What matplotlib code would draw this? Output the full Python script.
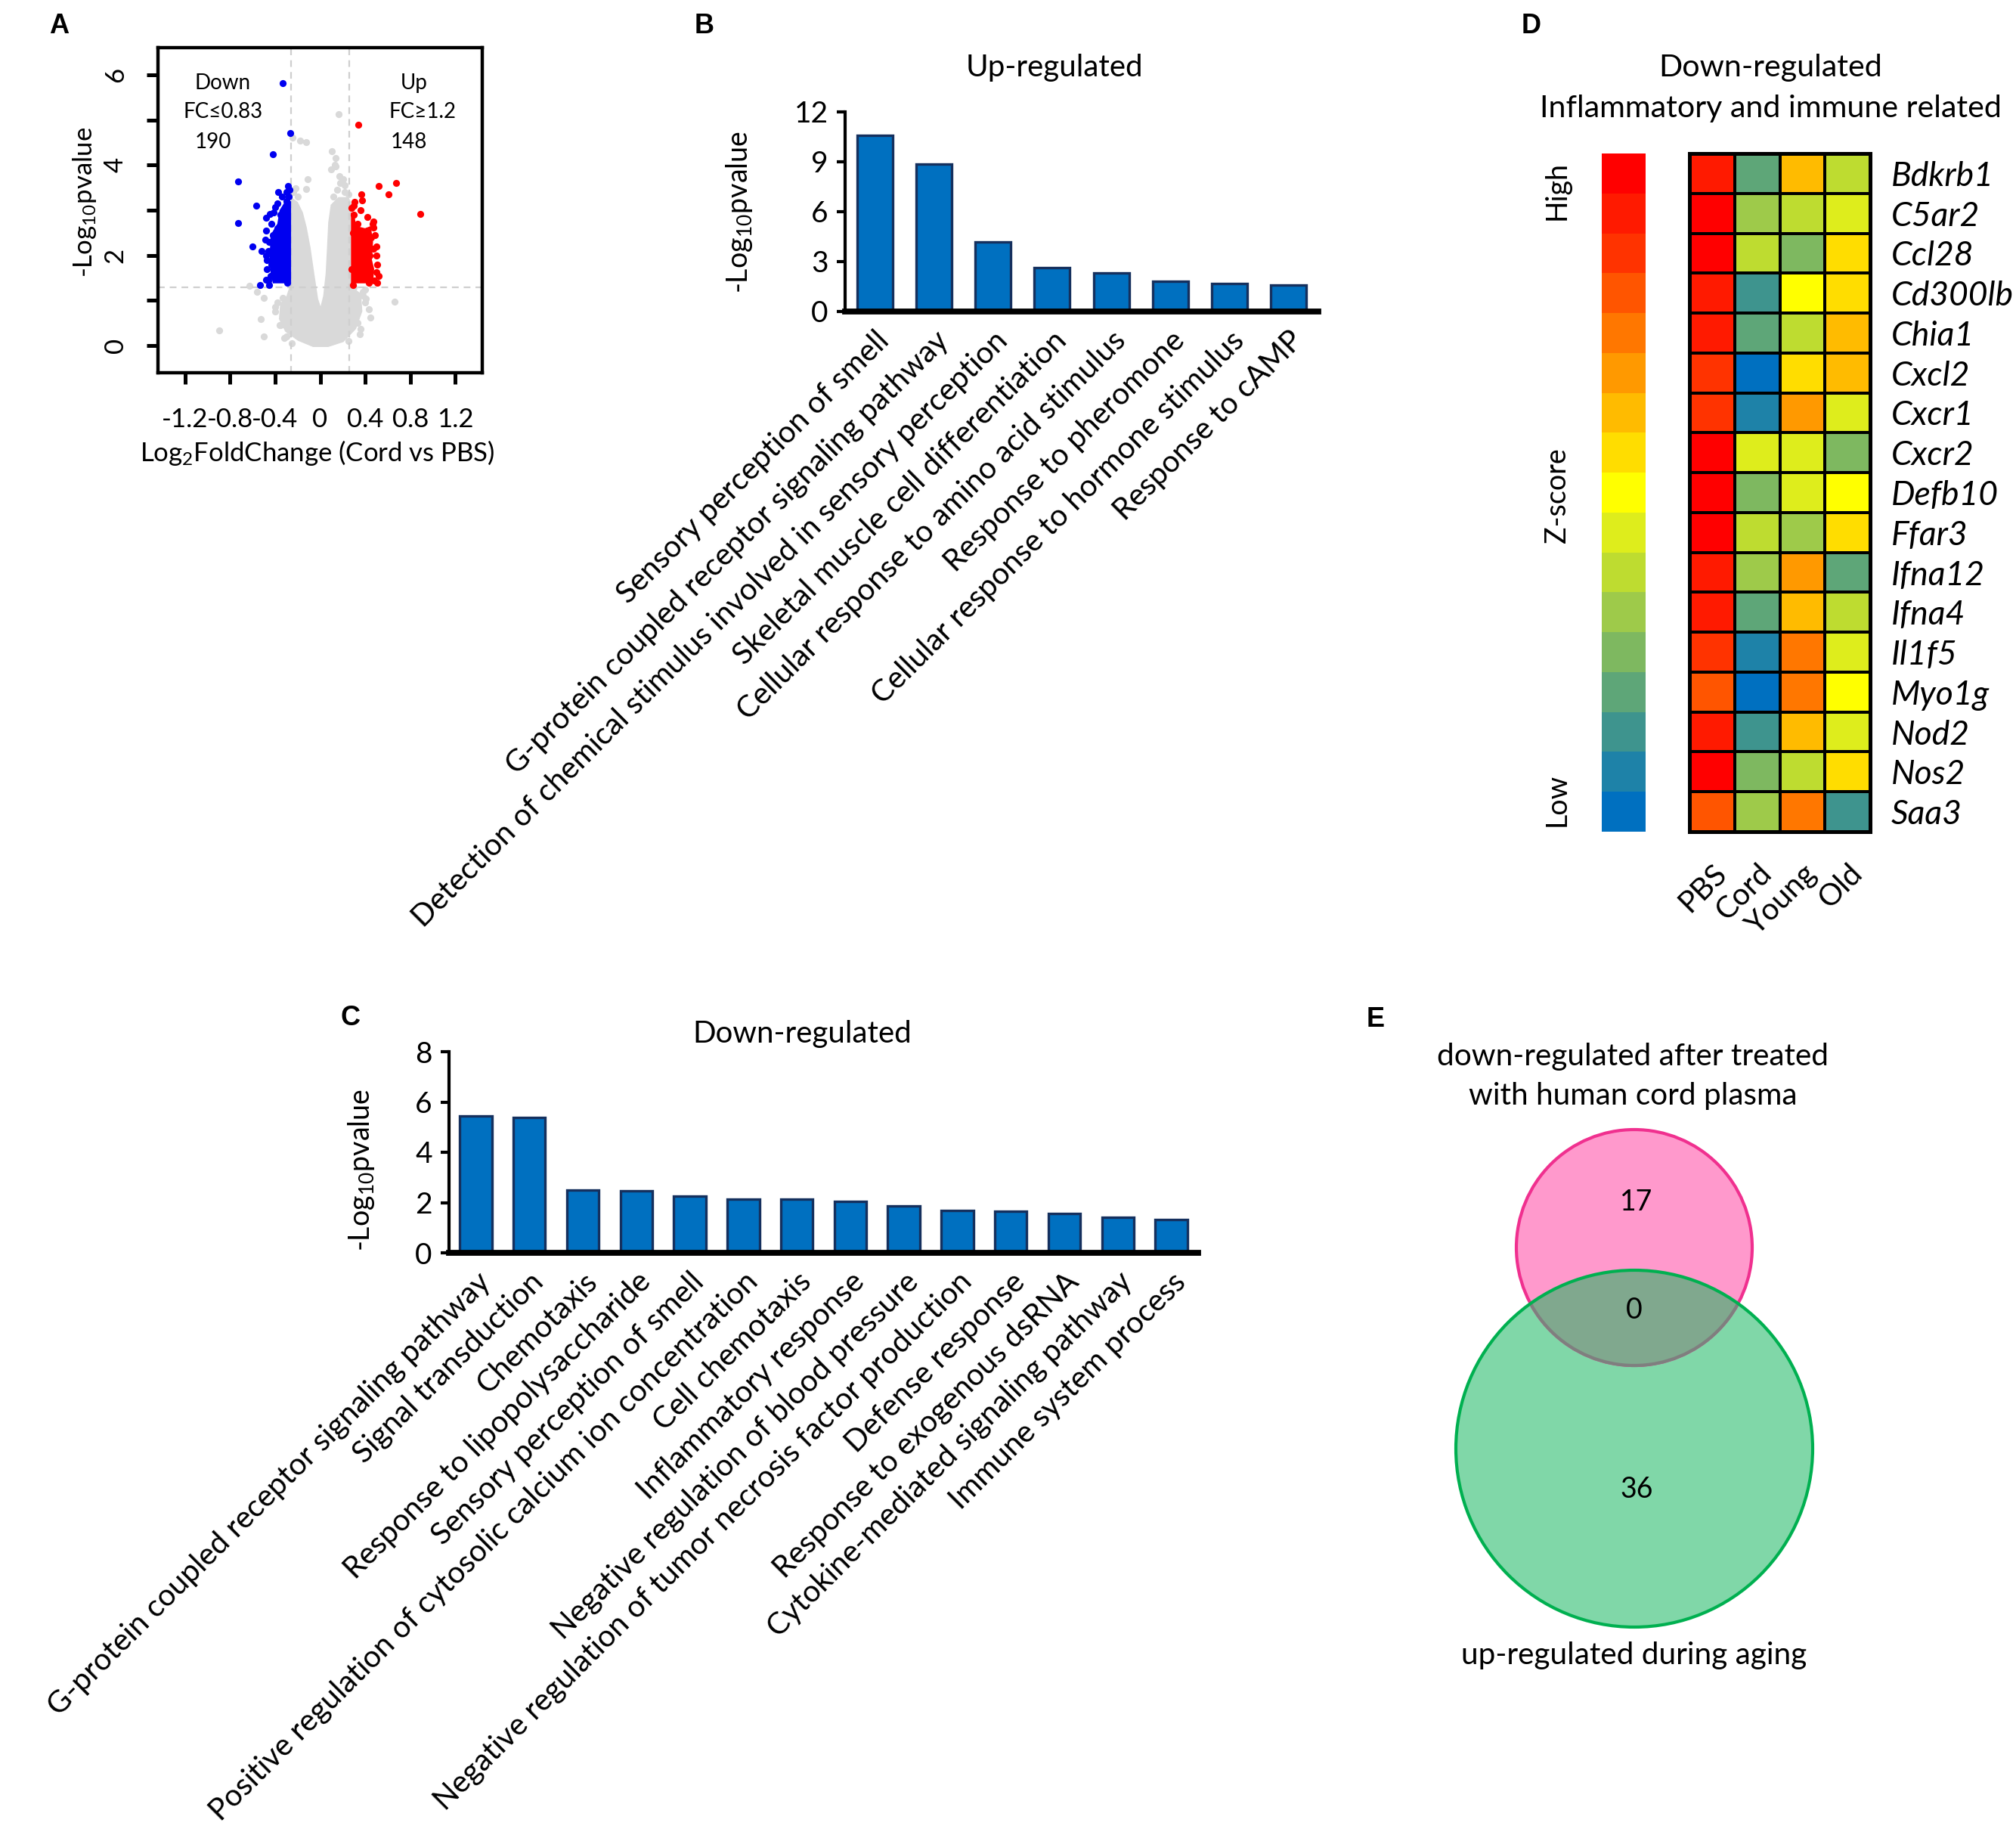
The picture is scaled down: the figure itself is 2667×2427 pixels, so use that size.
import numpy as np
import matplotlib
matplotlib.use('Agg')
import matplotlib.pyplot as plt
from matplotlib.colors import ListedColormap, BoundaryNorm
from matplotlib.patches import Circle

plt.rcParams['font.family'] = ['Lato', 'DejaVu Sans']
plt.rcParams['mathtext.default'] = 'regular'

# ---------------- data ----------------
# A: volcano plot (log2 fold change, -log10 p)
gray_core_x = [-0.258, -0.198, -0.153, -0.119, -0.085, -0.052, -0.018, 0.004, 0.027, 0.049, 0.061,
               0.072, 0.094, 0.162, 0.252, 0.274, 0.274, 0.364, 0.375, 0.319, 0.207, 0.072, -0.063,
               -0.198, -0.31, -0.366, -0.355, -0.299, -0.27, -0.258]
gray_core_y = [3.29, 3.18, 2.95, 2.62, 2.17, 1.60, 1.04, 0.87, 1.10, 1.60, 2.17,
               2.73, 3.12, 3.29, 3.29, 3.18, 1.32, 1.15, 0.76, 0.37, 0.08, -0.03, -0.03,
               0.11, 0.31, 0.59, 0.93, 1.10, 1.32, 1.60]
gray_x = [0.162, -0.175, -0.126, -0.243, 0.106, 0.139, 0.139, -0.112, -0.22, -0.126, 0.207, 0.22,
          0.17, -0.899, -0.629, -0.528, -0.501, -0.501, 0.661, 0.449, 0.409, 0.36, -0.321, -0.56,
          0.43, 0.40, -0.40, -0.35, 0.35, 0.38, -0.40, -0.36, -0.30, -0.25, 0.25, 0.33, 0.40,
          0.38, -0.33, -0.38, 0.30, -0.24, -0.20, 0.12, 0.15, 0.18, 0.22, 0.25, 0.10, 0.13]
gray_y = [5.13, 4.54, 4.51, 4.61, 4.30, 4.16, 3.97, 3.68, 3.49, 3.47, 3.68, 3.55,
          3.75, 0.34, 1.32, 0.59, 0.20, 1.05, 0.97, 0.62, 1.04, 0.37, 0.17, 1.20,
          0.80, 1.25, 0.85, 0.45, 0.25, 1.10, 0.75, 0.45, 0.20, 0.05, 0.10, 0.50, 0.95,
          1.20, 1.05, 0.95, 1.30, 3.40, 3.30, 3.30, 3.45, 3.60, 3.40, 3.35, 3.90, 4.00]
blue_core_x = [-0.258, -0.31, -0.36, -0.38, -0.44, -0.45, -0.44, -0.42, -0.258]
blue_core_y = [3.20, 3.20, 3.00, 2.70, 2.45, 1.90, 1.60, 1.38, 1.38]
blue_x = [-0.333, -0.265, -0.42, -0.726, -0.288, -0.371, -0.569, -0.726, -0.479, -0.445, -0.40,
          -0.602, -0.521, -0.535, -0.479, -0.42, -0.45, -0.46, -0.43, -0.38, -0.35, -0.30, -0.28,
          -0.31, -0.39, -0.44, -0.47, -0.41, -0.36, -0.33, -0.29,
          -0.49, -0.48, -0.47, -0.46, -0.43, -0.41, -0.38, -0.34, -0.30, -0.27, -0.48, -0.45]
blue_y = [5.82, 4.70, 4.24, 3.64, 3.54, 3.40, 3.10, 2.71, 2.84, 2.92, 3.07,
          2.20, 2.10, 1.35, 1.46, 2.45, 2.30, 2.10, 1.80, 2.60, 2.90, 3.20, 3.30,
          3.00, 1.60, 1.55, 1.90, 2.00, 1.50, 2.75, 1.40,
          2.35, 2.00, 1.70, 1.45, 2.70, 2.95, 3.15, 3.30, 3.40, 3.45, 2.55, 1.35]
red_core_x = [0.274, 0.30, 0.32, 0.40, 0.45, 0.47, 0.46, 0.48, 0.47, 0.274]
red_core_y = [2.95, 2.95, 2.65, 2.60, 2.65, 2.30, 1.90, 1.70, 1.38, 1.38]
red_x = [0.342, 0.517, 0.674, 0.607, 0.892, 0.364, 0.375, 0.308, 0.465, 0.476, 0.51, 0.499, 0.48,
         0.45, 0.42, 0.30, 0.29, 0.33, 0.40, 0.44, 0.47, 0.36, 0.31, 0.28, 0.39, 0.43,
         0.50, 0.49, 0.47, 0.42, 0.36, 0.30, 0.52, 0.51, 0.50, 0.28, 0.29]
red_y = [4.89, 3.54, 3.60, 3.36, 2.92, 3.35, 3.21, 3.18, 2.70, 2.62, 1.80, 1.63, 1.45,
         2.40, 2.55, 2.90, 2.50, 2.70, 2.20, 2.00, 2.15, 1.95, 1.50, 1.70, 1.75, 1.40,
         2.00, 2.45, 2.75, 2.85, 3.00, 3.10, 1.55, 1.40, 2.20, 3.05, 1.35]
fc_cut = [-0.26, 0.26]
p_cut = 1.3
volcano_xticks = [-1.2, -0.8, -0.4, 0, 0.4, 0.8, 1.2]
volcano_xticklabels = ['-1.2', '-0.8', '-0.4', '0', '0.4', '0.8', '1.2']
volcano_yticks = [0, 1, 2, 3, 4, 5, 6]
volcano_yticklabels = ['0', '', '2', '', '4', '', '6']

# B: GO terms up-regulated
up_terms = ['Sensory perception of smell',
            'G-protein coupled receptor signaling pathway',
            'Detection of chemical stimulus involved in sensory perception',
            'Skeletal muscle cell differentiation',
            'Cellular response to amino acid stimulus',
            'Response to pheromone',
            'Cellular response to hormone stimulus',
            'Response to cAMP']
up_vals = [10.6, 8.85, 4.2, 2.63, 2.31, 1.84, 1.68, 1.58]

# C: GO terms down-regulated
down_terms = ['G-protein coupled receptor signaling pathway',
              'Signal transduction',
              'Chemotaxis',
              'Response to lipopolysaccharide',
              'Sensory perception of smell',
              'Positive regulation of cytosolic calcium ion concentration',
              'Cell chemotaxis',
              'Inflammatory response',
              'Negative regulation of blood pressure',
              'Negative regulation of tumor necrosis factor production',
              'Defense response',
              'Response to exogenous dsRNA',
              'Cytokine-mediated signaling pathway',
              'Immune system process']
down_vals = [5.45, 5.37, 2.50, 2.46, 2.26, 2.15, 2.13, 2.06, 1.87, 1.68, 1.66, 1.57, 1.41, 1.33]

# D: heatmap (z-score levels, 8 = high, -8 = low)
genes = ['Bdkrb1', 'C5ar2', 'Ccl28', 'Cd300lb', 'Chia1', 'Cxcl2', 'Cxcr1', 'Cxcr2', 'Defb10',
         'Ffar3', 'Ifna12', 'Ifna4', 'Il1f5', 'Myo1g', 'Nod2', 'Nos2', 'Saa3']
groups = ['PBS', 'Cord', 'Young', 'Old']
heat_vals = [[7, -5, 2, -2],
             [8, -3, -2, -1],
             [8, -2, -4, 1],
             [7, -6, 0, 1],
             [7, -5, -2, 2],
             [6, -8, 1, 2],
             [6, -7, 3, -1],
             [8, -1, -1, -4],
             [8, -4, -1, 0],
             [8, -2, -3, 1],
             [7, -3, 3, -5],
             [7, -5, 2, -2],
             [6, -7, 4, -1],
             [5, -8, 4, 0],
             [7, -6, 2, -1],
             [8, -4, -2, 1],
             [5, -3, 4, -6]]
zscore_levels = list(range(8, -9, -1))
zscore_colors = ['#FF0000', '#FF1A00', '#FF3300', '#FF5500', '#FF7700', '#FF9900', '#FFBB00',
                 '#FFDD00', '#FFFF00', '#DEED1C', '#BEDC30', '#9ECA4A', '#7EB860', '#5EA678',
                 '#3E948E', '#1E82A8', '#0070C0']

# E: Venn counts
venn_only_down = 17
venn_both = 0
venn_only_up = 36

# ---------------- figure ----------------
W, H = 2667, 2427
DPI = 200
fig = plt.figure(figsize=(W / DPI, H / DPI), dpi=DPI)


def box(l, t, r, b):
    return fig.add_axes([l / W, 1 - b / H, (r - l) / W, (b - t) / H])


def ftext(x, y, s, **kw):
    kw.setdefault('ha', 'center')
    kw.setdefault('va', 'center')
    fig.text(x / W, 1 - y / H, s, **kw)


letter_font = dict(family='Liberation Sans', fontweight='bold', fontsize=13)
ftext(78, 34, 'A', **letter_font)
ftext(932, 34, 'B', **letter_font)
ftext(2026, 34, 'D', **letter_font)
ftext(463, 1347, 'C', **letter_font)
ftext(1820, 1349, 'E', **letter_font)

# ---- A ----
axA = box(209, 63, 638, 493)
axA.fill(gray_core_x, gray_core_y, color='#D9D9D9', lw=0, zorder=1)
axA.scatter(gray_x, gray_y, s=11, color='#D9D9D9', lw=0, zorder=1)
for v in fc_cut:
    axA.axvline(v, color='#CFCFCF', ls=(0, (4, 3)), lw=0.8, zorder=2)
axA.axhline(p_cut, color='#CFCFCF', ls=(0, (4, 3)), lw=0.8, zorder=2)
axA.fill(blue_core_x, blue_core_y, color='#0000F0', lw=0, zorder=3)
axA.scatter(blue_x, blue_y, s=11, color='#0000F0', lw=0, zorder=3)
axA.fill(red_core_x, red_core_y, color='#FF0000', lw=0, zorder=3)
axA.scatter(red_x, red_y, s=11, color='#FF0000', lw=0, zorder=3)
axA.set_xlim(-1.44, 1.44)
axA.set_ylim(-0.6, 6.6)
for sp in axA.spines.values():
    sp.set_linewidth(1.6)
axA.set_xticks(volcano_xticks, volcano_xticklabels)
axA.set_yticks(volcano_yticks, volcano_yticklabels)
axA.tick_params(length=5.5, width=1.8, labelsize=12.5)
axA.tick_params(axis='x', pad=11)
axA.tick_params(axis='y', pad=9, labelrotation=90)
for lbl in axA.get_yticklabels():
    lbl.set_va('center')
axA.text(-0.865, 5.82, 'Down', ha='center', va='center', fontsize=10)
axA.text(-0.865, 5.17, 'FC≤0.83', ha='center', va='center', fontsize=10)
axA.text(-0.95, 4.50, '190', ha='center', va='center', fontsize=10)
axA.text(0.836, 5.82, 'Up', ha='center', va='center', fontsize=10)
axA.text(0.908, 5.17, 'FC≥1.2', ha='center', va='center', fontsize=10)
axA.text(0.791, 4.50, '148', ha='center', va='center', fontsize=10)
ftext(112, 267, '-Log$_{10}$pvalue', rotation=90, fontsize=12.5)
ftext(420, 599, 'Log$_{2}$FoldChange (Cord vs PBS)', fontsize=12.5)


def go_bars(ax, terms, vals, yticks, ymax):
    x = np.arange(len(vals))
    ax.bar(x, vals, width=0.6, color='#0070C0', edgecolor='#15305E', lw=1.2)
    ax.set_xlim(-0.5, len(vals) - 0.5)
    ax.set_ylim(0, ymax)
    ax.spines['top'].set_visible(False)
    ax.spines['right'].set_visible(False)
    ax.spines['left'].set_linewidth(1.5)
    ax.spines['bottom'].set_linewidth(2.8)
    ax.set_yticks(yticks)
    ax.tick_params(axis='y', length=4, width=1.5, labelsize=14, pad=4)
    ax.set_xticks(x, terms, rotation=45, ha='right', rotation_mode='anchor', fontsize=14.5)
    ax.tick_params(axis='x', length=0, pad=7)


# ---- B ----
axB = box(1118, 148, 1744, 412)
go_bars(axB, up_terms, up_vals, [0, 3, 6, 9, 12], 12)
ftext(1395, 90, 'Up-regulated', fontsize=14.5)
ftext(978, 281, '-Log$_{10}$pvalue', rotation=90, fontsize=13.5)

# ---- C ----
axC = box(594, 1391, 1585, 1657)
go_bars(axC, down_terms, down_vals, [0, 2, 4, 6, 8], 8)
ftext(1061, 1368, 'Down-regulated', fontsize=14.5)
ftext(478, 1548, '-Log$_{10}$pvalue', rotation=90, fontsize=13.5)

# ---- D ----
cmap = ListedColormap(zscore_colors[::-1])
norm = BoundaryNorm(np.arange(-8.5, 9.5, 1), cmap.N)

axCb = box(2119, 203, 2177, 1100)
axCb.pcolormesh(np.array(zscore_levels)[:, None], cmap=cmap, norm=norm)
axCb.set_ylim(len(zscore_levels), 0)
axCb.axis('off')
ftext(2060, 252, 'High', rotation=90, fontsize=13.5)
ftext(2060, 655, 'Z-score', rotation=90, fontsize=13.5)
ftext(2060, 1058, 'Low', rotation=90, fontsize=13.5)

axD = box(2235, 203, 2474, 1100)
axD.pcolormesh(np.array(heat_vals), cmap=cmap, norm=norm, edgecolors='black', linewidth=1.3)
axD.set_xlim(0, len(groups))
axD.set_ylim(len(genes), 0)
for sp in axD.spines.values():
    sp.set_linewidth(1.8)
axD.yaxis.tick_right()
axD.set_yticks(np.arange(len(genes)) + 0.5, genes, fontsize=16, fontstyle='italic')
axD.set_xticks(np.arange(len(groups)) + 0.5, groups, rotation=45, ha='right',
               rotation_mode='anchor', fontsize=14.5)
axD.tick_params(axis='y', length=0, pad=10)
axD.tick_params(axis='x', length=0, pad=13)
ftext(2342, 90, 'Down-regulated', fontsize=14.8)
ftext(2342, 143, 'Inflammatory and immune related', fontsize=14.8)

# ---- E ----
axE = box(1880, 1450, 2440, 2190)
axE.set_xlim(-280, 280)
axE.set_ylim(-370, 370)
axE.set_aspect('equal')
axE.axis('off')
pink_c, pink_r = (2, 170), 156
green_c, green_r = (2, -96), 236
axE.add_patch(Circle(green_c, green_r, facecolor='#80D7A8', edgecolor='none', zorder=1))
axE.add_patch(Circle(pink_c, pink_r, facecolor='#FF99CC', edgecolor='#F0308F', lw=1.5, zorder=2))
clip_green = Circle(green_c, green_r, transform=axE.transData)
overlap = Circle(pink_c, pink_r, facecolor='#80A88E', edgecolor='#7F7F7F', lw=1.5, zorder=3)
axE.add_patch(overlap)
overlap.set_clip_path(clip_green)
axE.add_patch(Circle(green_c, green_r, facecolor='none', edgecolor='#00B050', lw=1.5, zorder=4))
axE.text(5, 230, str(venn_only_down), ha='center', va='center', fontsize=13.5, zorder=5)
axE.text(2, 87, str(venn_both), ha='center', va='center', fontsize=13.5, zorder=5)
axE.text(5, -150, str(venn_only_up), ha='center', va='center', fontsize=13.5, zorder=5)
ftext(2160, 1397, 'down-regulated after treated', fontsize=14.6)
ftext(2160, 1449, 'with human cord plasma', fontsize=14.6)
ftext(2162, 2189, 'up-regulated during aging', fontsize=14.6)

fig.savefig('out.png', dpi=DPI, facecolor='white')
